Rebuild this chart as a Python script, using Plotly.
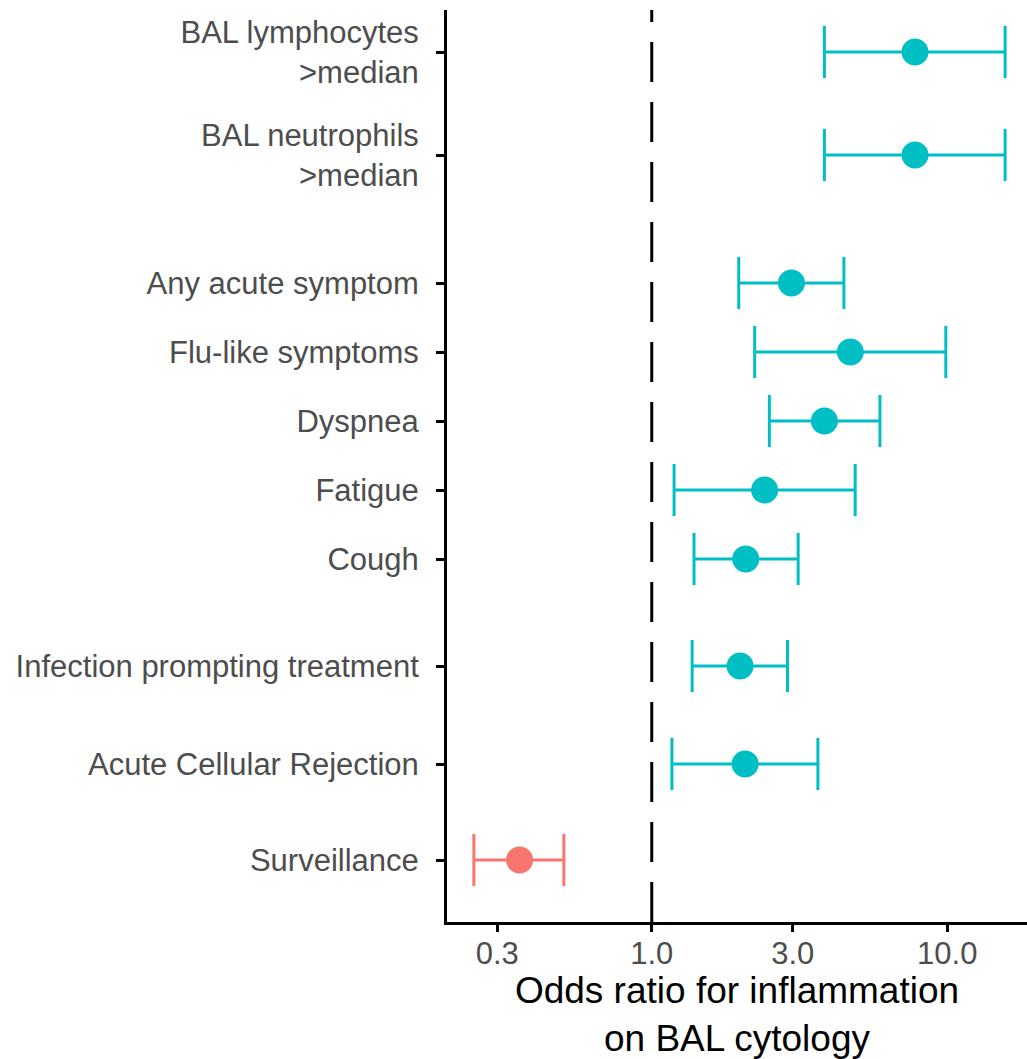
import plotly.graph_objects as go

# ---------------- data ----------------
labels = [
    "BAL lymphocytes<br>&gt;median",
    "BAL neutrophils<br>&gt;median",
    "Any acute symptom",
    "Flu-like symptoms",
    "Dyspnea",
    "Fatigue",
    "Cough",
    "Infection prompting treatment",
    "Acute Cellular Rejection",
    "Surveillance",
]
odds_ratio = [7.78, 7.78, 2.97, 4.70, 3.84, 2.41, 2.08, 1.99, 2.07, 0.357]
ci_lower = [3.84, 3.84, 1.97, 2.23, 2.50, 1.19, 1.39, 1.37, 1.17, 0.250]
ci_upper = [15.7, 15.7, 4.47, 9.89, 5.92, 4.88, 3.13, 2.88, 3.65, 0.504]
direction = ["Positive"] * 9 + ["Negative"]

x_tick_vals = [0.3, 1.0, 3.0, 10.0]
x_tick_text = ["0.3", "1.0", "3.0", "10.0"]
reference_or = 1.0

# ---------------- layout helpers ----------------
row_pos = [52, 155, 283, 352, 421, 490, 559, 666, 764, 860]  # vertical row layout (grouped)
colors = {"Positive": "#00BFC4", "Negative": "#F8766D"}
FONT = "Liberation Sans, Arial, Helvetica, sans-serif"

fig = go.Figure()
for grp in ["Negative", "Positive"]:
    idx = [i for i, d in enumerate(direction) if d == grp]
    fig.add_trace(go.Scatter(
        x=[odds_ratio[i] for i in idx],
        y=[row_pos[i] for i in idx],
        mode="markers",
        marker=dict(size=27, color=colors[grp]),
        error_x=dict(
            type="data", symmetric=False,
            array=[ci_upper[i] - odds_ratio[i] for i in idx],
            arrayminus=[odds_ratio[i] - ci_lower[i] for i in idx],
            color=colors[grp], thickness=3, width=26,
        ),
        showlegend=False,
        name=grp,
    ))

fig.add_shape(type="line", xref="x", yref="paper",
              x0=reference_or, x1=reference_or, y0=0, y1=1,
              line=dict(color="black", width=3, dash="40px,20px"),
              layer="below")

fig.update_layout(
    width=1027, height=1059,
    margin=dict(l=447, r=0, t=10, b=137),
    paper_bgcolor="white", plot_bgcolor="white",
    font=dict(family=FONT),
)
fig.update_xaxes(
    type="log",
    range=[-0.693, 1.270],
    tickvals=x_tick_vals, ticktext=x_tick_text,
    ticks="outside", ticklen=7, tickwidth=2.5, tickcolor="black",
    tickfont=dict(size=31, color="#4D4D4D", family=FONT),
    ticklabelstandoff=-5,
    showline=True, linecolor="black", linewidth=3,
    showgrid=False, zeroline=False,
    title=dict(text="Odds ratio for inflammation<br>on BAL cytology",
               font=dict(size=37, color="black", family=FONT), standoff=8),
)
fig.update_yaxes(
    range=[922, 10],
    tickvals=row_pos, ticktext=labels,
    ticks="outside", ticklen=8, tickwidth=2.5, tickcolor="black",
    tickfont=dict(size=31, color="#4D4D4D", family=FONT),
    ticklabelstandoff=11,
    showline=True, linecolor="black", linewidth=3,
    showgrid=False, zeroline=False,
)

fig.write_html("out.html")
